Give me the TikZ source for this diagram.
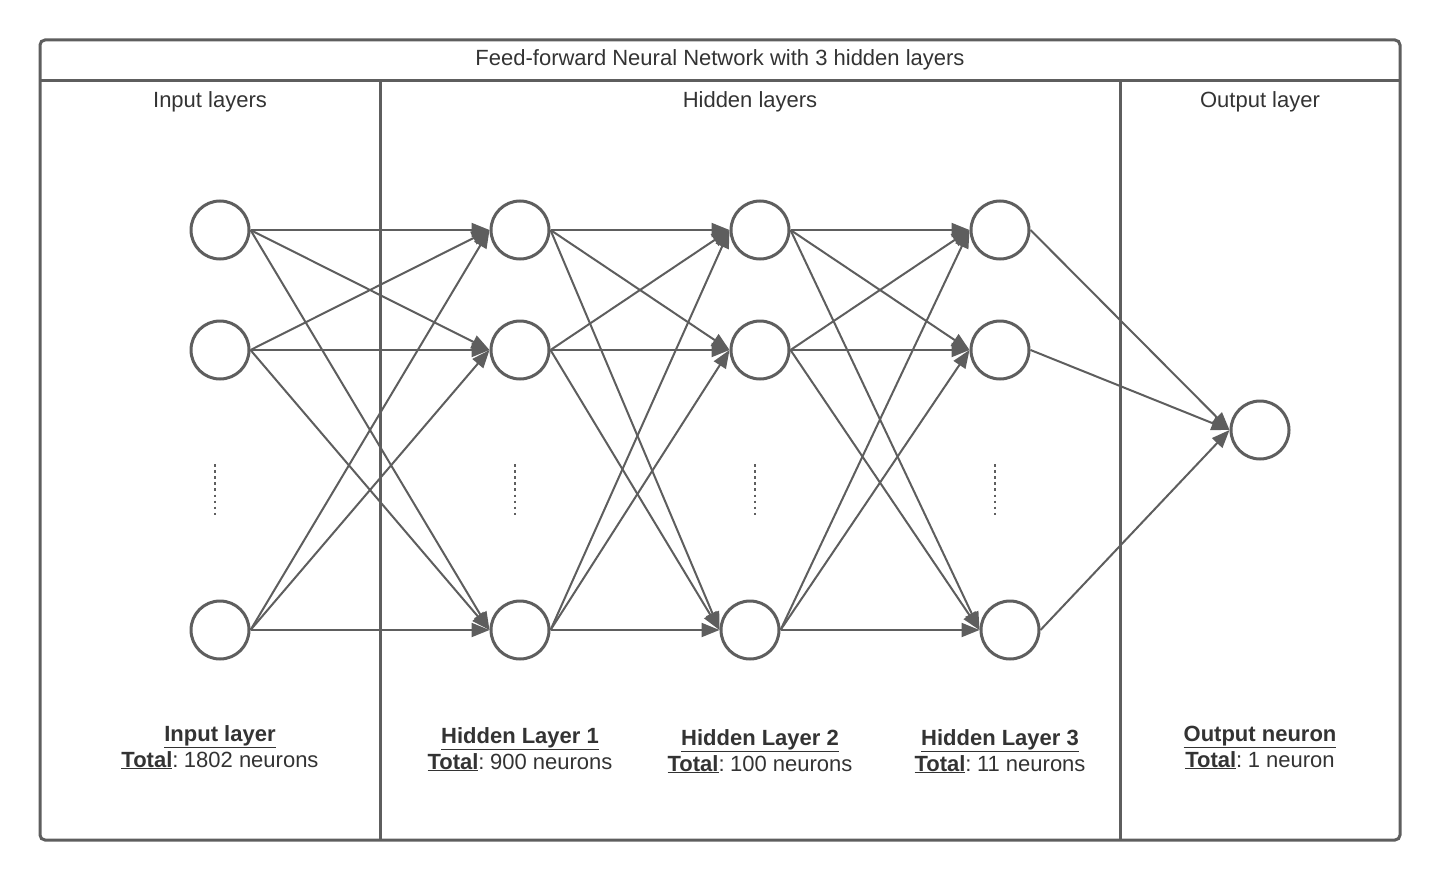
\documentclass[tikz,border=0pt]{standalone}
\usepackage{fontspec}
\setmainfont{Liberation Sans}
\usetikzlibrary{arrows.meta}
\definecolor{ln}{HTML}{5E5E5E}
\definecolor{tx}{HTML}{333333}
\tikzset{
  neuron/.style={circle, draw=ln, line width=3pt, minimum size=58pt, inner sep=0pt},
  conn/.style={draw=ln, line width=2pt, -{Triangle[length=18pt,width=14pt]}},
  frame/.style={draw=ln, line width=3pt},
  lbl/.style={text=tx, font=\fontsize{22}{26}\selectfont, align=center, inner sep=0pt},
  dotsline/.style={draw=ln, line width=2.5pt, dash pattern=on 2.5pt off 3.6pt}
}
\newcommand{\ulb}[1]{\underline{\textbf{#1}}}
\newcommand{\tsp}{\hspace{0.25em}}
\begin{document}
\begin{tikzpicture}[x=1pt,y=-1pt]
\useasboundingbox (0,0) rectangle (1440,880);
% frame
\draw[frame, rounded corners=5pt] (40,40) rectangle (1400,840);
\draw[frame] (40,81) -- (1400,81);
\draw[frame] (380,81) -- (380,840);
\draw[frame] (1120,81) -- (1120,840);
% headings
\node[lbl] (title) at (720,60) {Feed-forward Neural Network with 3 hidden layers};
\node[lbl] (hin) at (210,102) {Input layers};
\node[lbl] (hhid) at (750,102) {Hidden layers};
\node[lbl] (hout) at (1260,102) {Output layer};
% neurons
\node[neuron] (a1) at (220,230) {};
\node[neuron] (a2) at (220,350) {};
\node[neuron] (a3) at (220,630) {};
\node[neuron] (b1) at (520,230) {};
\node[neuron] (b2) at (520,350) {};
\node[neuron] (b3) at (520,630) {};
\node[neuron] (c1) at (760,230) {};
\node[neuron] (c2) at (760,350) {};
\node[neuron] (c3) at (750,630) {};
\node[neuron] (d1) at (1000,230) {};
\node[neuron] (d2) at (1000,350) {};
\node[neuron] (d3) at (1010,630) {};
\node[neuron] (o) at (1260,430) {};
% dots
\coordinate (p1) at (215,464); \coordinate (q1) at (215,516);
\coordinate (p2) at (515,464); \coordinate (q2) at (515,516);
\coordinate (p3) at (755,464); \coordinate (q3) at (755,516);
\coordinate (p4) at (995,464); \coordinate (q4) at (995,516);
\foreach \i in {1,2,3,4} \draw[dotsline] (p\i) -- (q\i);
% connections
\foreach \s/\t in {a/b,b/c,c/d}{
  \foreach \i in {1,2,3}{
    \foreach \j in {1,2,3}{
      \draw[conn] (\s\i.east) -- (\t\j.west);
    }
  }
}
\foreach \i in {1,2,3} \draw[conn] (d\i.east) -- (o.west);
% labels
\node[lbl, anchor=base] (la) at (220,767) {\ulb{Input layer}\\\ulb{Total}:\tsp1802 neurons};
\node[lbl, anchor=base] (lb) at (520,769) {\ulb{Hidden Layer 1}\\\ulb{Total}:\tsp900 neurons};
\node[lbl, anchor=base] (lc) at (760,771) {\ulb{Hidden Layer 2}\\\ulb{Total}:\tsp100 neurons};
\node[lbl, anchor=base] (ld) at (1000,771) {\ulb{Hidden Layer 3}\\\ulb{Total}:\tsp11 neurons};
\node[lbl, anchor=base] (lo) at (1260,767) {\ulb{Output neuron}\\\ulb{Total}:\tsp1 neuron};
\end{tikzpicture}
\end{document}
